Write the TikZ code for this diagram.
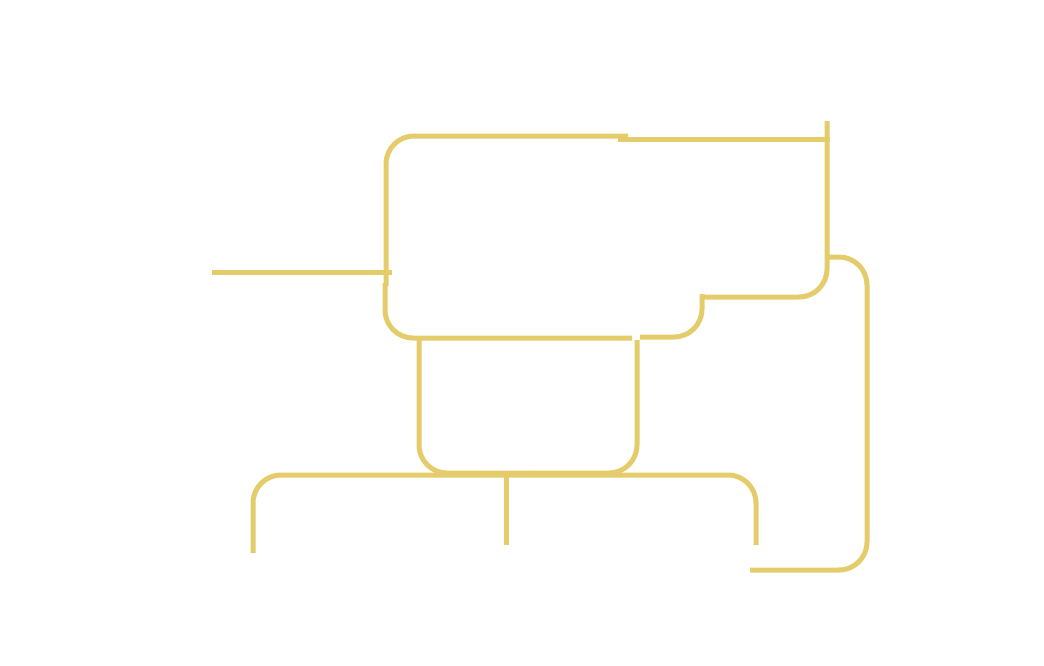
\documentclass[tikz,border=0pt]{standalone}
\definecolor{linkyellow}{RGB}{229,204,106}

\begin{document}
\begin{tikzpicture}[
		x=1pt,
		y=-1pt,
		link/.style={
			draw=linkyellow,
			line width=5pt,
			rounded corners=28pt,
		},
	]
		\useasboundingbox (0,0) rectangle (1044,665);
		% end points of the connectors
		\coordinate (inL) at (212,272);
		\coordinate (inR) at (392,272);
		\coordinate (upFoot) at (386,286);
		\coordinate (upTop) at (628,136);
		\coordinate (topL) at (618,139);
		\coordinate (topR) at (830,139);
		\coordinate (sideTop) at (827,121);
		\coordinate (sideEnd) at (700,297);
		\coordinate (stepTop) at (702,294);
		\coordinate (stepEnd) at (640,337);
		\coordinate (lowHead) at (385,283);
		\coordinate (lowEnd) at (632,338);
		\coordinate (midL) at (419,338);
		\coordinate (midR) at (637,340);
		\coordinate (midBot) at (528,473);
		\coordinate (hub) at (506,475);
		\coordinate (leafL) at (253,553);
		\coordinate (leafM) at (506,545);
		\coordinate (leafR) at (756,545);
		\coordinate (backStart) at (827,257);
		\coordinate (backTurn) at (867,570);
		\coordinate (backEnd) at (750,570);

		\draw[link] (inL) -- (inR);
		\draw[link] (upFoot) |- (upTop);
		\draw[link] (topL) -- (topR);
		\draw[link] (sideTop) |- (sideEnd);
		\draw[link] (stepTop) |- (stepEnd);
		\draw[link] (lowHead) |- (lowEnd);
		\draw[link] (midL) |- (midBot);
		\draw[link] (midR) |- (midBot);
		\draw[link] (leafL) |- (hub);
		\draw[link] (leafR) |- (hub);
		\draw[link] (hub) -- (leafM);
		\draw[link] (backStart) -| (backTurn) -- (backEnd);
	\end{tikzpicture}
\end{document}
